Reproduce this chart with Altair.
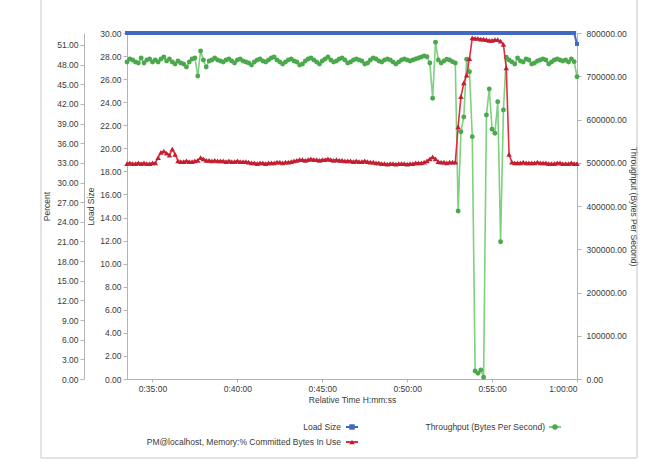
import altair as alt
import pandas as pd

# ---------------- data ----------------
START_SEC = 2010   # 0:33:30
STEP_SEC = 10      # one sample every 10 s

load_size = [
    30.0, 30.0, 30.0, 30.0, 30.0, 30.0, 30.0, 30.0, 30.0, 30.0, 30.0, 30.0, 30.0, 30.0, 30.0, 30.0, 30.0, 30.0, 30.0, 30.0,
    30.0, 30.0, 30.0, 30.0, 30.0, 30.0, 30.0, 30.0, 30.0, 30.0, 30.0, 30.0, 30.0, 30.0, 30.0, 30.0, 30.0, 30.0, 30.0, 30.0,
    30.0, 30.0, 30.0, 30.0, 30.0, 30.0, 30.0, 30.0, 30.0, 30.0, 30.0, 30.0, 30.0, 30.0, 30.0, 30.0, 30.0, 30.0, 30.0, 30.0,
    30.0, 30.0, 30.0, 30.0, 30.0, 30.0, 30.0, 30.0, 30.0, 30.0, 30.0, 30.0, 30.0, 30.0, 30.0, 30.0, 30.0, 30.0, 30.0, 30.0,
    30.0, 30.0, 30.0, 30.0, 30.0, 30.0, 30.0, 30.0, 30.0, 30.0, 30.0, 30.0, 30.0, 30.0, 30.0, 30.0, 30.0, 30.0, 30.0, 30.0,
    30.0, 30.0, 30.0, 30.0, 30.0, 30.0, 30.0, 30.0, 30.0, 30.0, 30.0, 30.0, 30.0, 30.0, 30.0, 30.0, 30.0, 30.0, 30.0, 30.0,
    30.0, 30.0, 30.0, 30.0, 30.0, 30.0, 30.0, 30.0, 30.0, 30.0, 30.0, 30.0, 30.0, 30.0, 30.0, 30.0, 30.0, 30.0, 30.0, 30.0,
    30.0, 30.0, 30.0, 30.0, 30.0, 30.0, 30.0, 30.0, 30.0, 30.0, 30.0, 30.0, 30.0, 30.0, 30.0, 30.0, 30.0, 30.0, 30.0, 29.05,
]

percent_committed = [
    32.9, 33.0, 32.9, 32.9, 33.0, 32.9, 33.0, 32.9, 32.9, 33.0, 33.0,
    33.8, 34.6, 34.8, 34.5, 34.2, 35.1, 34.3, 33.3,
    33.2, 33.2, 33.3, 33.2, 33.2, 33.3, 33.4,
    33.8, 33.6,
    33.4, 33.4, 33.3, 33.4, 33.3, 33.3, 33.3, 33.2, 33.3, 33.2, 33.2, 33.3, 33.2, 33.2, 33.2, 33.1,
    33.0, 33.0, 32.9, 33.0, 33.0, 32.9, 33.0, 33.0, 33.0, 33.1, 33.1, 33.0, 33.1, 33.1, 33.2, 33.3,
    33.4, 33.5, 33.5, 33.4, 33.5, 33.6, 33.5, 33.5, 33.4, 33.5, 33.5, 33.6, 33.5, 33.4, 33.5, 33.4, 33.4, 33.3, 33.3,
    33.3, 33.2, 33.3, 33.2, 33.2, 33.3, 33.2, 33.1, 33.1, 33.0, 33.0,
    32.9, 32.9, 32.8, 32.9, 32.9, 32.8, 32.9, 32.9, 32.9, 32.8, 32.9, 32.9, 33.0, 33.0, 33.0, 33.1,
    33.3, 33.6, 33.9, 33.6, 33.2, 33.1, 33.1, 33.0, 33.1, 33.1,
    33.1, 38.5, 43.1, 45.2, 46.4, 48.9, 52.1,
    52.0, 52.0, 51.9, 51.9, 51.8, 51.7, 51.7, 51.8, 51.8, 51.6, 51.1,
    47.5, 34.3,
    33.1, 33.0, 33.0, 33.0, 33.1, 33.0, 33.0, 33.0, 33.0, 33.1, 33.0, 33.0, 33.0, 32.9, 32.9, 32.9,
    33.0, 33.0, 32.9, 32.9, 32.9, 33.0, 32.9, 32.9,
]

throughput = [
    733000, 740000, 737600, 733000, 730600, 742200, 730600, 737600, 740000, 733000,
    737600, 733000, 740000, 744500, 735300, 740000, 733000, 728300, 735300, 730600,
    728300, 721400, 733000, 740000, 742200, 700600, 758400, 737600, 721400, 735300,
    737600,
    742200, 737600, 735300, 733000, 737600, 740000, 735300, 730600, 737600, 740000,
    735300, 733000, 730600, 726000, 733000, 737600, 740000, 735300, 733000, 737600,
    742200, 744500, 737600, 733000, 728300, 733000, 737600, 740000, 735300, 733000,
    726000, 728300, 735300, 740000, 742200, 737600, 733000, 728300, 735300, 740000,
    744500, 737600, 733000, 735300, 740000, 742200, 737600, 730600, 733000, 737600,
    740000, 737600, 735300, 728300, 730600, 737600, 742200, 740000, 735300, 733000,
    737600, 740000, 737600, 733000, 728300, 733000, 737600, 740000, 737600, 735300,
    737600, 740000, 742200, 744500, 747000, 745000,
    730600, 649300, 778500, 737600, 730600, 735300, 739300, 737600, 733700, 730600,
    388400, 571800, 605800, 739200, 710500, 560300, 18500, 13200, 20800, 3900,
    610400, 670500, 577300, 568100, 641100, 317500, 621900, 743800,
    737600, 733000, 728300, 742200, 735300, 733000, 740000, 737600, 728300, 730600,
    735300, 737600, 740000, 737600, 728300, 733000, 737600, 740000, 737600, 735300,
    737600, 733000, 739900, 733700, 698900,
]

time_ticks = [2100, 2400, 2700, 3000, 3300, 3600]
percent_ticks = [0, 3, 6, 9, 12, 15, 18, 21, 24, 27, 30, 33, 36, 39, 42, 45, 48, 51]
load_ticks = [0, 2, 4, 6, 8, 10, 12, 14, 16, 18, 20, 22, 24, 26, 28, 30]
thr_ticks = [0, 100000, 200000, 300000, 400000, 500000, 600000, 700000, 800000]

series_names = ["Load Size", "Throughput (Bytes Per Second)",
                "PM@localhost, Memory:% Committed Bytes In Use"]

times = [START_SEC + STEP_SEC * i for i in range(len(percent_committed))]
df = pd.DataFrame({"t": times, "load": load_size,
                   "pct": percent_committed, "thr": throughput})

# ---------------- styles ----------------
FONT = "Liberation Sans"
FS = 8.5
BLUE = "#4169c4"
RED_LINE = "#e0303e"
RED_PT = "#c21f33"
GREEN_LINE = "#7fd07f"
GREEN_PT = "#4ca84c"
AX = "#b4b4b4"
TXT = "#3a3a3a"

W, H = 450, 346

x_enc = alt.X(
    "t:Q",
    scale=alt.Scale(domain=[2010, 3600], nice=False, zero=False),
    axis=alt.Axis(values=time_ticks,
                  labelExpr="utcFormat(datum.value*1000, '%-H:%M:%S')",
                  title="Relative Time H:mm:ss", tickSize=3,
                  labelPadding=2, titlePadding=3),
)

thr_layer = alt.Chart(df).mark_line(
    color=GREEN_LINE, strokeWidth=1.6,
    point=alt.OverlayMarkDef(shape="circle", size=24, filled=True,
                             color=GREEN_PT, opacity=1),
).encode(
    x=x_enc,
    y=alt.Y("thr:Q", scale=alt.Scale(domain=[0, 800000], nice=False),
            axis=alt.Axis(orient="right", values=thr_ticks, format=".2f",
                          title="Throughput (Bytes Per Second)", tickSize=4,
                          labelPadding=5, titlePadding=2)),
)

pct_layer = alt.Chart(df).mark_line(
    color=RED_LINE, strokeWidth=1.6,
    point=alt.OverlayMarkDef(shape="triangle-up", size=30, filled=True,
                             color=RED_PT, opacity=1),
).encode(
    x=x_enc,
    y=alt.Y("pct:Q", scale=alt.Scale(domain=[0, 52.83], nice=False),
            axis=alt.Axis(orient="left", offset=43, values=percent_ticks,
                          format=".2f", title="Percent", tickSize=4,
                          labelPadding=2, titlePadding=5)),
)

load_layer = alt.Chart(df).mark_line(
    color=BLUE, strokeWidth=2,
    point=alt.OverlayMarkDef(shape="square", size=16, filled=True,
                             color=BLUE, opacity=1),
).encode(
    x=x_enc,
    y=alt.Y("load:Q", scale=alt.Scale(domain=[0, 30], nice=False),
            axis=alt.Axis(orient="left", offset=0, values=load_ticks,
                          format=".2f", title="Load Size", tickSize=4,
                          labelPadding=2, titlePadding=4)),
)

# ---------------- custom legend (label left of symbol) ----------------
def legend_item(name, tx, ty, sx, color_line, color_pt, shape, size):
    d = pd.DataFrame({"label": [name]})
    base = alt.Chart(d)
    txt = base.mark_text(align="right", baseline="middle", font=FONT,
                         fontSize=FS, color=TXT).encode(
        x=alt.value(tx), y=alt.value(ty), text="label:N")
    seg = base.mark_rule(color=color_line, strokeWidth=2).encode(
        x=alt.value(sx - 6), x2=alt.value(sx + 6), y=alt.value(ty))
    pt = base.mark_point(shape=shape, size=size, filled=True, color=color_pt,
                         opacity=1).encode(x=alt.value(sx), y=alt.value(ty))
    return [txt, seg, pt]

legend_layers = (
    legend_item(series_names[0], 214, 394, 225, BLUE, BLUE, "square", 30)
    + legend_item(series_names[1], 418, 394, 428, GREEN_LINE, GREEN_PT, "circle", 30)
    + legend_item(series_names[2], 214, 409, 225, RED_LINE, RED_PT, "triangle-up", 30)
)

# outer frame
frame_df = pd.DataFrame({"k": [0]})
frame = [
    alt.Chart(frame_df).mark_rule(color="#c8c8c8", strokeWidth=1).encode(
        x=alt.value(-86), y=alt.value(-40), y2=alt.value(425)),
    alt.Chart(frame_df).mark_rule(color="#c8c8c8", strokeWidth=1).encode(
        x=alt.value(510), y=alt.value(-40), y2=alt.value(425)),
    alt.Chart(frame_df).mark_rule(color="#c8c8c8", strokeWidth=1).encode(
        x=alt.value(-86), x2=alt.value(510), y=alt.value(425)),
]

chart = alt.layer(
    thr_layer, pct_layer, load_layer, *legend_layers, *frame
).resolve_scale(y="independent").properties(
    width=W, height=H,
    autosize=alt.AutoSizeParams(type="none"),
    padding={"left": 127, "top": 33, "right": 78, "bottom": 92},
    background="white",
).configure_view(stroke=None).configure_axis(
    labelFont=FONT, labelFontSize=FS, labelColor=TXT,
    titleFont=FONT, titleFontSize=FS, titleFontWeight="normal", titleColor=TXT,
    domainColor=AX, tickColor=AX, grid=False,
)

chart.save("out.html", embed_options={"renderer": "svg", "actions": False})
